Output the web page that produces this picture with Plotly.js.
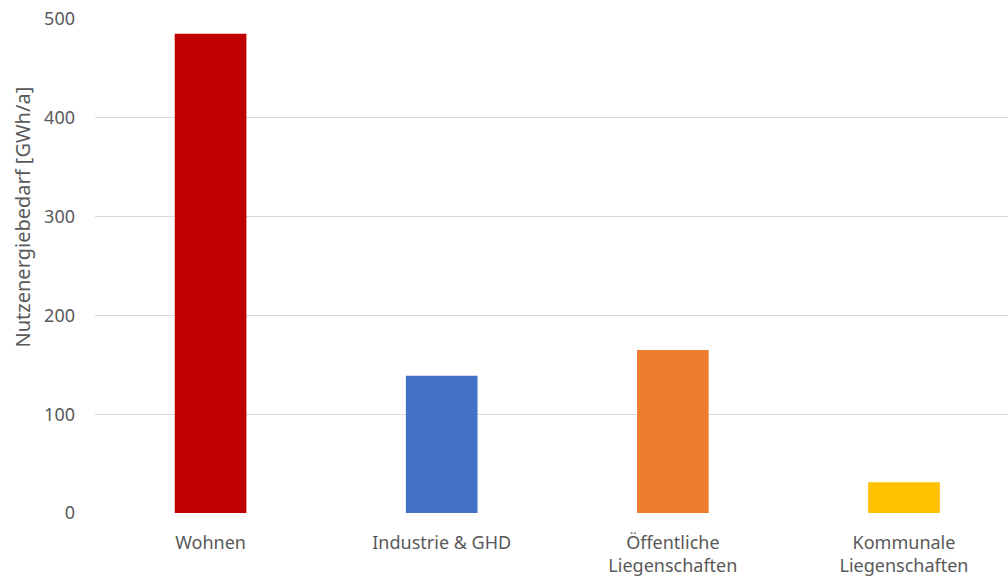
<!DOCTYPE html>
<html>
<head>
<meta charset="utf-8">
<script src="https://cdn.plot.ly/plotly-3.0.1.min.js"></script>
<style>html,body{margin:0;padding:0;background:#fff;overflow:hidden;}</style>
</head>
<body>
<div id="chart" style="width:1008px;height:579px;"></div>
<script>
const categories = ["Wohnen", "Industrie & GHD", "Öffentliche<br>Liegenschaften", "Kommunale<br>Liegenschaften"];
const values = [485, 139, 165, 31];
const barColors = ["#C00000", "#4472C4", "#ED7D31", "#FFC000"];
const yTicks = [0, 100, 200, 300, 400, 500];
const yTitle = "Nutzenergiebedarf [GWh/a]";

const font = "'Noto Sans', Lato, sans-serif";
const textColor = "#595959";

Plotly.newPlot("chart", [{
  type: "bar",
  x: categories,
  y: values,
  marker: {color: barColors, line: {width: 0}},
  hoverinfo: "x+y"
}], {
  width: 1008,
  height: 579,
  margin: {l: 95, r: 0, t: 19, b: 66},
  paper_bgcolor: "#ffffff",
  plot_bgcolor: "#ffffff",
  bargap: 0.69,
  showlegend: false,
  font: {family: font, size: 18, color: textColor},
  xaxis: {
    range: [-0.5, 3.45],
    showgrid: false,
    zeroline: false,
    showline: false,
    ticks: "",
    ticklabelstandoff: 17,
    tickfont: {family: font, size: 18, color: textColor}
  },
  yaxis: {
    range: [0, 500],
    tickvals: yTicks,
    showgrid: true,
    gridcolor: "#D9D9D9",
    gridwidth: 1,
    zeroline: false,
    showline: false,
    ticks: "",
    ticklabelstandoff: 19,
    tickfont: {family: font, size: 18, color: textColor}
  },
  annotations: [{
    text: yTitle,
    xref: "paper", yref: "paper",
    x: -0.079, y: 0.6,
    xanchor: "center", yanchor: "middle",
    textangle: -90,
    showarrow: false,
    font: {family: font, size: 20, color: textColor}
  }]
}, {displayModeBar: false, staticPlot: true});
</script>
</body>
</html>
